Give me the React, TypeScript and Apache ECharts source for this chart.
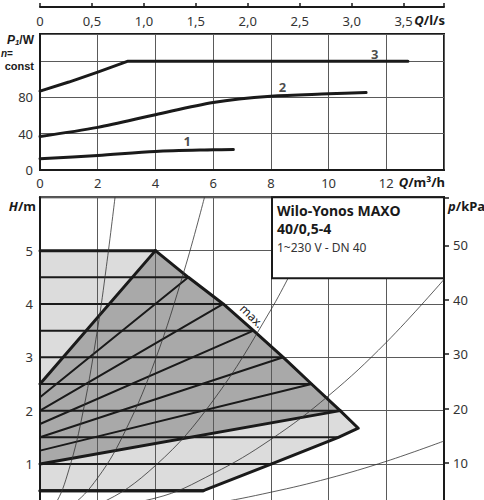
import React, { useEffect, useRef } from "react";
import * as echarts from "echarts";

// ---- Upper chart: P1/W vs Q (m³/h) ----
const curve1 = [[0, 12.4], [2, 16], [4, 20.5], [6, 22.3], [6.7, 22.6]];
const curve2 = [[0, 37], [2, 47], [4, 61], [6, 74.5], [8, 81.4], [10, 84], [11.3, 85.5]];
const curve3 = [[0, 87], [1, 97], [2, 108], [3.05, 120], [12.75, 120]];
const curveLabels = [
  { name: "1", q: 5.1, p: 32 },
  { name: "2", q: 8.4, p: 92 },
  { name: "3", q: 11.6, p: 128 },
];
const upperXTicks = [0, 2, 4, 6, 8, 10, 12];
const upperYTicks = [0, 40, 80];
const lsTicks = [0, 0.5, 1, 1.5, 2, 2.5, 3, 3.5];

// ---- Lower chart: H/m vs Q (m³/h) ----
const maxCurve = [[4, 5], [5.14, 4.5], [6.35, 4], [7.4, 3.5], [8.43, 3], [9.41, 2.5], [10.4, 2], [11.03, 1.67]];
const minCurve = [[11.03, 1.67], [10.34, 1.5], [8.03, 1.0], [5.66, 0.5], [0, 0.5]];
const dpcLevels = [0.5, 1, 1.5, 2, 2.5, 3, 3.5, 4, 4.5, 5];
const dpcEndQ = [5.66, 8.03, 10.34, 10.4, 9.41, 8.43, 7.4, 6.35, 5.14, 4.0];
const dpvSet = [2, 2.5, 3, 3.5, 4, 4.5, 5];
const dpvStartH = [1, 1.25, 1.5, 1.75, 2, 2.25, 2.5];
const dpvEndQ = [10.4, 9.41, 8.43, 7.4, 6.35, 5.14, 4.0];

const sysCurve1 = [[0, 0], [0.5, 0.22], [1, 0.89], [1.5, 2.0], [2, 3.55], [2.3, 4.7], [2.6, 6.0]];
const sysCurve2 = [[0, 0], [1, 0.19], [2, 0.74], [3, 1.67], [4, 2.96], [5, 4.63], [5.7, 6.0]];
const sysCurve3 = [[0, 0], [2, 0.24], [4, 0.97], [6, 2.19], [8, 3.89], [9, 4.92]];
const sysCurve4 = [[0, 0], [4, 0.36], [6, 0.82], [8, 1.46], [10, 2.28], [12, 3.28], [14, 4.46]];
const sysCurve5 = [[0, 0], [4, 0.12], [6, 0.26], [8, 0.47], [10, 0.73], [12, 1.05], [14, 1.43]];
const sysCurves = [sysCurve1, sysCurve2, sysCurve3, sysCurve4, sysCurve5];

const hTicks = [1, 2, 3, 4, 5];
const pTicks = [10, 20, 30, 40, 50];

const FONT = "Noto Sans";
const FONT2 = "Liberation Sans";
const TXT = "#333";
const INK = "#1a1a1a";
const GRIDC = "#5a5a5a";

function lineSeries(data: number[][], width: number, xi: number, yi: number, z: number, extra: any = {}) {
  return {
    type: "line",
    xAxisIndex: xi,
    yAxisIndex: yi,
    data,
    showSymbol: false,
    symbol: "none",
    silent: true,
    z,
    lineStyle: { color: INK, width, cap: "round", join: "round" },
    ...extra,
  };
}

function polySeries(poly: number[][], fill: string) {
  return {
    type: "custom",
    xAxisIndex: 2,
    yAxisIndex: 1,
    silent: true,
    z: 1,
    data: [[0, 0]],
    renderItem: (_p: any, api: any) => ({
      type: "polygon",
      shape: { points: poly.map((pt) => api.coord(pt)) },
      style: { fill, stroke: "none" },
    }),
  };
}

function richLabel(x: number, y: number, a: string, b: string, align: string, size = 13, font = FONT) {
  return {
    type: "text",
    x,
    y,
    z: 10,
    style: {
      text: `{a|${a}}{b|${b}}`,
      align,
      verticalAlign: "middle",
      rich: {
        a: { fontFamily: font, fontWeight: "bold", fontStyle: "italic", fontSize: size, lineHeight: size, fill: INK },
        b: { fontFamily: font, fontWeight: "bold", fontSize: size, lineHeight: size, fill: INK },
      },
    },
  };
}

export default function App() {
  const ref = useRef<HTMLDivElement>(null);
  useEffect(() => {
    const chart = echarts.init(ref.current!, null, { renderer: "svg" });
    const outerPoly = [[0, 5], ...maxCurve, ...minCurve];
    const darkPoly = [[0, 2.5], ...maxCurve.slice(0, 7), [0, 1]];

    const series: any[] = [
      polySeries(outerPoly, "#dcdcdc"),
      polySeries(darkPoly, "#a9a9a9"),
    ];
    dpcLevels.forEach((h, i) => {
      const thick = h === 0.5 || h === 5;
      series.push(lineSeries([[0, h], [dpcEndQ[i], h]], thick ? 3 : 2, 2, 1, thick ? 4 : 3));
    });
    dpvSet.forEach((hs, i) => {
      const thick = hs === 2 || hs === 5;
      series.push(lineSeries([[0, dpvStartH[i]], [dpvEndQ[i], hs]], thick ? 3 : 2, 2, 1, thick ? 4 : 3));
    });
    series.push(lineSeries([...maxCurve, ...minCurve], 3, 2, 1, 4));
    sysCurves.forEach((c) => {
      series.push(
        lineSeries(c, 0.8, 2, 1, 5, { smooth: 0.4, lineStyle: { color: "#333", width: 0.8 } })
      );
    });
    [curve1, curve2, curve3].forEach((c, i) => {
      series.push(lineSeries(c, 3, 0, 0, 3, i === 2 ? {} : { smooth: 0.3 }));
    });
    series.push({
      type: "scatter",
      xAxisIndex: 0,
      yAxisIndex: 0,
      symbolSize: 0,
      silent: true,
      z: 6,
      data: curveLabels.map((l) => ({
        value: [l.q, l.p],
        label: {
          show: true,
          position: "inside",
          formatter: l.name,
          fontFamily: FONT,
          fontWeight: "bold",
          fontSize: 13,
          color: INK,
        },
      })),
    });

    const option: any = {
      animation: false,
      backgroundColor: "#fff",
      textStyle: { fontFamily: FONT },
      grid: [
        { left: 40, top: 34, width: 404, height: 136, show: true, borderColor: INK, borderWidth: 2, backgroundColor: "transparent" },
        { left: 40, top: 197.3, width: 404, height: 320, show: true, borderColor: INK, borderWidth: 2, backgroundColor: "transparent" },
      ],
      xAxis: [
        {
          type: "value",
          gridIndex: 0,
          min: 0,
          max: 14,
          interval: 2,
          axisLine: { show: true, lineStyle: { color: INK, width: 2 } },
          axisTick: { show: false },
          axisLabel: {
            margin: 6,
            fontSize: 13,
            color: TXT,
            fontFamily: FONT,
            formatter: (v: number) => (upperXTicks.includes(v) ? String(v) : ""),
          },
          splitLine: { show: true, lineStyle: { color: GRIDC, width: 1 } },
        },
        {
          type: "value",
          gridIndex: 0,
          position: "top",
          offset: 27,
          min: 0,
          max: 14 / 3.6,
          interval: 0.5,
          axisLine: { show: true, lineStyle: { color: INK, width: 2 } },
          axisTick: { show: true, inside: false, length: 4, lineStyle: { color: INK, width: 1.5 } },
          axisLabel: {
            inside: true,
            margin: 7,
            fontSize: 13,
            color: TXT,
            fontFamily: FONT,
            formatter: (v: number) => {
              const t = lsTicks.find((x) => Math.abs(x - v) < 1e-6);
              if (t === undefined) return "";
              return t === 0 ? "0" : t.toFixed(1).replace(".", ",");
            },
          },
          splitLine: { show: false },
        },
        {
          type: "value",
          gridIndex: 1,
          min: 0,
          max: 14,
          interval: 2,
          z: 2,
          axisLine: { show: false },
          axisTick: { show: false },
          axisLabel: { show: false },
          splitLine: { show: true, lineStyle: { color: GRIDC, width: 1 } },
        },
      ],
      yAxis: [
        {
          type: "value",
          gridIndex: 0,
          min: 0,
          max: 150,
          interval: 40,
          axisLine: { show: true, lineStyle: { color: INK, width: 2 } },
          axisTick: { show: false },
          axisLabel: {
            margin: 7,
            fontSize: 13,
            color: TXT,
            fontFamily: FONT,
            formatter: (v: number) => (upperYTicks.includes(v) ? String(v) : ""),
          },
          splitLine: { show: true, lineStyle: { color: GRIDC, width: 1 } },
        },
        {
          type: "value",
          gridIndex: 1,
          min: 0,
          max: 6,
          interval: 1,
          z: 2,
          axisLine: { show: true, lineStyle: { color: INK, width: 2 } },
          axisTick: { show: false },
          axisLabel: {
            margin: 7,
            fontSize: 13,
            color: TXT,
            fontFamily: FONT,
            formatter: (v: number) => (hTicks.includes(v) ? String(v) : ""),
          },
          splitLine: { show: true, lineStyle: { color: GRIDC, width: 1 } },
        },
        {
          type: "value",
          gridIndex: 1,
          position: "right",
          min: 0,
          max: 6 * 9.81,
          interval: 10,
          z: 2,
          axisLine: { show: true, lineStyle: { color: INK, width: 2 } },
          axisTick: { show: true, inside: false, length: 5, lineStyle: { color: INK, width: 1.5 } },
          axisLabel: {
            margin: 9,
            fontSize: 13,
            color: TXT,
            fontFamily: FONT,
            formatter: (v: number) => (pTicks.includes(v) ? String(v) : ""),
          },
          splitLine: { show: false },
        },
      ],
      series,
      graphic: [
        {
          type: "text",
          x: 34,
          y: 40,
          z: 10,
          style: {
            text: "{a|P}{s|1}{b|/W}",
            align: "right",
            verticalAlign: "middle",
            rich: {
              a: { fontFamily: FONT2, fontWeight: "bold", fontStyle: "italic", fontSize: 12, lineHeight: 12, fill: INK },
              s: { fontFamily: FONT2, fontWeight: "bold", fontStyle: "italic", fontSize: 8, lineHeight: 12, fill: INK, verticalAlign: "bottom" },
              b: { fontFamily: FONT2, fontWeight: "bold", fontSize: 12, lineHeight: 12, fill: INK },
            },
          },
        },
        richLabel(1, 53, "n", "=", "left", 10, FONT2),
        {
          type: "text",
          x: 34,
          y: 65.5,
          z: 10,
          style: { text: "const", align: "right", verticalAlign: "middle", fontFamily: FONT2, fontWeight: "bold", fontSize: 11, lineHeight: 11, fill: INK },
        },
        richLabel(445, 20, "Q", "/l/s", "right"),
        richLabel(445, 182, "Q", "/m³/h", "right"),
        richLabel(36, 206, "H", "/m", "right"),
        richLabel(448, 206, "p", "/kPa", "left"),
        {
          type: "rect",
          z: 20,
          shape: { x: 272, y: 197.3, width: 172, height: 81 },
          style: { fill: "#fff", stroke: INK, lineWidth: 2 },
        },
        {
          type: "text",
          x: 277,
          y: 210,
          z: 21,
          style: { text: "Wilo-Yonos MAXO", verticalAlign: "middle", fontFamily: FONT, fontWeight: "bold", fontSize: 14, fill: INK },
        },
        {
          type: "text",
          x: 277,
          y: 228,
          z: 21,
          style: { text: "40/0,5-4", verticalAlign: "middle", fontFamily: FONT, fontWeight: "bold", fontSize: 14, fill: INK },
        },
        {
          type: "text",
          x: 277,
          y: 247,
          z: 21,
          style: { text: "1~230 V - DN 40", verticalAlign: "middle", fontFamily: FONT, fontSize: 12, fill: "#333" },
        },
        {
          type: "text",
          x: 252,
          y: 316,
          z: 21,
          rotation: -0.78,
          style: { text: "max.", align: "center", verticalAlign: "middle", fontFamily: FONT, fontSize: 12, fill: INK },
        },
      ],
    };
    chart.setOption(option);
    return () => chart.dispose();
  }, []);
  return (
    <div style={{ position: "fixed", left: 0, top: 0, width: 484, height: 500, overflow: "hidden", background: "#fff" }}>
      <div ref={ref} style={{ width: 484, height: 560 }} />
    </div>
  );
}
